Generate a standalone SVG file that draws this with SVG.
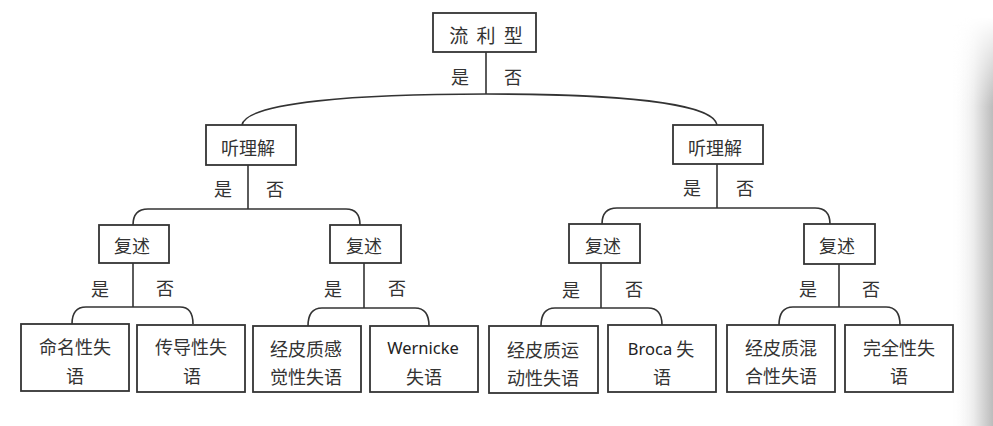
<svg xmlns="http://www.w3.org/2000/svg" width="993" height="426" viewBox="0 0 993 426">
<defs>
<style>
.box{fill:#fff;stroke:#333;stroke-width:1.8}
.ln{fill:none;stroke:#333;stroke-width:1.6}
text{font-family:"Noto Sans CJK SC","Noto Sans",sans-serif;fill:#333;text-anchor:middle;dominant-baseline:central}
.t{font-size:18px}
.lat{font-family:"Noto Sans","Noto Sans CJK SC",sans-serif;font-size:16.5px;fill:#222}
</style>
<linearGradient id="sh" x1="0" y1="0" x2="1" y2="0">
<stop offset="0" stop-color="#fff" stop-opacity="0"/>
<stop offset="0.55" stop-color="#ececec"/>
<stop offset="1" stop-color="#bcbcbc"/>
</linearGradient>
<linearGradient id="fv" x1="0" y1="0" x2="0" y2="1">
<stop offset="0" stop-color="#000"/>
<stop offset="0.04" stop-color="#000"/>
<stop offset="0.25" stop-color="#fff"/>
<stop offset="1" stop-color="#fff"/>
</linearGradient>
<mask id="m"><rect x="950" y="0" width="43" height="426" fill="url(#fv)"/></mask>
</defs>
<rect width="993" height="426" fill="#fff"/>
<rect x="950" y="0" width="43" height="426" fill="url(#sh)" mask="url(#m)"/>

<g id="connectors">
<path class="ln" d="M486,52 V94"/>
<path class="ln" d="M242,125 C246,102 360,94 486,94 C612,94 713,102 717,125"/>
<path class="ln" d="M248,165 V209"/>
<path class="ln" d="M133,225 Q133,209 148,209 H346 Q360,209 360,225"/>
<path class="ln" d="M717,164 V208"/>
<path class="ln" d="M602,224 Q602,208 617,208 H815 Q830,208 830,224"/>
<path class="ln" d="M133,263 V307"/>
<path class="ln" d="M72,324 Q72,307 86,307 H180 Q193,307 193,324"/>
<path class="ln" d="M364,263 V308"/>
<path class="ln" d="M308,326 Q308,308 322,308 H415 Q429,308 429,326"/>
<path class="ln" d="M601,263 V308"/>
<path class="ln" d="M541,326 Q541,308 555,308 H648 Q662,308 662,325"/>
<path class="ln" d="M839,264 V307"/>
<path class="ln" d="M779,325 Q779,307 793,307 H886 Q900,307 900,325"/>
</g>

<g id="labels">
<text class="t" x="460" y="76">是</text><text class="t" x="513" y="76">否</text>
<text class="t" x="223" y="188">是</text><text class="t" x="275" y="188">否</text>
<text class="t" x="692" y="187">是</text><text class="t" x="745" y="187">否</text>
<text class="t" x="100" y="288">是</text><text class="t" x="165" y="287">否</text>
<text class="t" x="333" y="288">是</text><text class="t" x="397" y="287">否</text>
<text class="t" x="571" y="289">是</text><text class="t" x="634" y="288">否</text>
<text class="t" x="808" y="288">是</text><text class="t" x="871" y="288">否</text>
</g>

<g id="n-root"><rect class="box" x="433" y="13" width="103" height="39"/><text class="t" x="487" y="34" style="font-size:19px;letter-spacing:2px">流 利 型</text></g>
<g id="n-ting1"><rect class="box" x="206" y="125" width="90" height="40"/><text class="t" x="248" y="147">听理解</text></g>
<g id="n-ting2"><rect class="box" x="673" y="125" width="90" height="39"/><text class="t" x="715" y="147">听理解</text></g>
<g id="n-fu1"><rect class="box" x="99" y="225" width="70" height="38"/><text class="t" x="132" y="245">复述</text></g>
<g id="n-fu2"><rect class="box" x="330" y="225" width="71" height="38"/><text class="t" x="364" y="245">复述</text></g>
<g id="n-fu3"><rect class="box" x="569" y="224" width="71" height="39"/><text class="t" x="603" y="245">复述</text></g>
<g id="n-fu4"><rect class="box" x="804" y="224" width="71" height="40"/><text class="t" x="837" y="245">复述</text></g>

<g id="n-l1"><rect class="box" x="21" y="324" width="108" height="67"/><text class="t" x="75" y="346">命名性失</text><text class="t" x="75" y="375">语</text></g>
<g id="n-l2"><rect class="box" x="137" y="325" width="108" height="67"/><text class="t" x="191" y="346">传导性失</text><text class="t" x="192" y="375">语</text></g>
<g id="n-l3"><rect class="box" x="253" y="326" width="108" height="66"/><text class="t" x="306" y="348">经皮质感</text><text class="t" x="306" y="376">觉性失语</text></g>
<g id="n-l4"><rect class="box" x="370" y="326" width="108" height="66"/><text class="lat" x="423" y="347">Wernicke</text><text class="t" x="424" y="376">失语</text></g>
<g id="n-l5"><rect class="box" x="489" y="326" width="109" height="67"/><text class="t" x="543" y="349">经皮质运</text><text class="t" x="543" y="377">动性失语</text></g>
<g id="n-l6"><rect class="box" x="608" y="325" width="108" height="67"/><text class="t" x="661" y="348"><tspan class="lat" style="font-size:16.5px">Broca</tspan> 失</text><text class="t" x="662" y="376">语</text></g>
<g id="n-l7"><rect class="box" x="727" y="325" width="108" height="67"/><text class="t" x="781" y="347">经皮质混</text><text class="t" x="781" y="375">合性失语</text></g>
<g id="n-l8"><rect class="box" x="845" y="325" width="108" height="67"/><text class="t" x="899" y="347">完全性失</text><text class="t" x="899" y="375">语</text></g>
</svg>
